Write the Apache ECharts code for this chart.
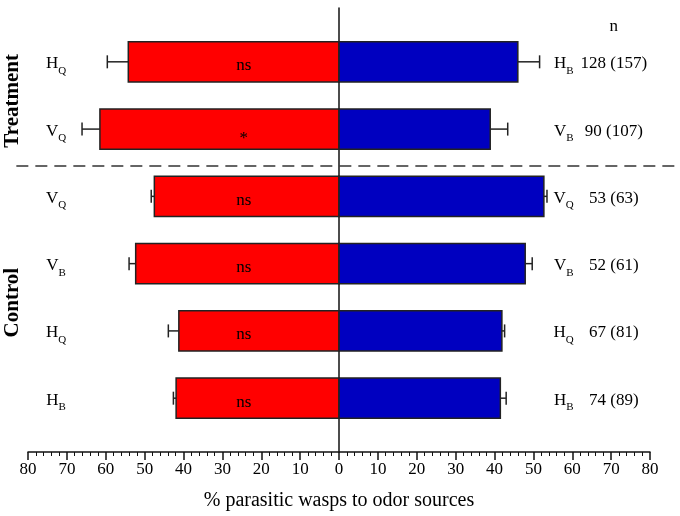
<!DOCTYPE html>
<html>
<head>
<meta charset="utf-8">
<script src="https://cdn.jsdelivr.net/npm/echarts@6/dist/echarts.min.js"></script>
<style>
  html, body { margin: 0; background: #fff; }
  #chart { width: 680px; height: 516px; }
</style>
</head>
<body>
<div id="chart"></div>
<script>
// 行位置 (1 = 最上)
const rowPos = [1, 2, 3, 4, 5, 6];
// 左侧 (红) 选择比例及误差上限
const leftValues = [54.2, 61.5, 47.5, 52.3, 41.2, 41.9];
const leftErrEnds = [59.6, 66.1, 48.3, 54.0, 43.9, 42.6];
// 右侧 (蓝) 选择比例及误差上限
const rightValues = [46.0, 38.9, 52.7, 47.9, 41.9, 41.5];
const rightErrEnds = [51.6, 43.4, 53.5, 49.7, 42.6, 43.0];
// 标签 [主字母, 下标]
const leftLabels = [['H', 'Q'], ['V', 'Q'], ['V', 'Q'], ['V', 'B'], ['H', 'Q'], ['H', 'B']];
const rightLabels = [['H', 'B'], ['V', 'B'], ['V', 'Q'], ['V', 'B'], ['H', 'Q'], ['H', 'B']];
const sigLabels = ['ns', '*', 'ns', 'ns', 'ns', 'ns'];
const nLabels = ['128 (157)', '90 (107)', '53 (63)', '52 (61)', '67 (81)', '74 (89)'];
const groupNames = ['Treatment', 'Control'];
const groupRows = [[1, 2], [3, 6]];
const nHeader = 'n';
const axisTitle = '% parasitic wasps to odor sources';

const FONT = '"Liberation Serif", "DejaVu Serif", serif';
const barHeight = 0.6;
const errStyle = { stroke: '#222', lineWidth: 1.5 };
const subRich = {
    m: { fontFamily: FONT, fontSize: 17, color: '#000', lineHeight: 17, verticalAlign: 'bottom' },
    s: { fontFamily: FONT, fontSize: 11, color: '#000', lineHeight: 11, verticalAlign: 'bottom', padding: [0, 0, -4, 0] }
};

function subText(pair) {
    return '{m|' + pair[0] + '}{s|' + pair[1] + '}';
}

function renderRow(params, api) {
    const i = params.dataIndex;
    const y = api.value(0);
    const h = api.size([0, barHeight])[1];
    const p0 = api.coord([0, y]);
    const pl = api.coord([-api.value(1), y]);
    const ple = api.coord([-api.value(2), y]);
    const pr = api.coord([api.value(3), y]);
    const pre = api.coord([api.value(4), y]);
    const cap = 6.5;
    const cy = p0[1];
    const children = [
        { type: 'line', shape: { x1: pl[0], y1: cy, x2: ple[0], y2: cy }, style: errStyle },
        { type: 'line', shape: { x1: ple[0], y1: cy - cap, x2: ple[0], y2: cy + cap }, style: errStyle },
        { type: 'line', shape: { x1: pr[0], y1: cy, x2: pre[0], y2: cy }, style: errStyle },
        { type: 'line', shape: { x1: pre[0], y1: cy - cap, x2: pre[0], y2: cy + cap }, style: errStyle },
        { type: 'rect', shape: { x: pl[0], y: cy - h / 2, width: p0[0] - pl[0], height: h },
          style: { fill: '#ff0000', stroke: '#222', lineWidth: 1.5 } },
        { type: 'rect', shape: { x: p0[0], y: cy - h / 2, width: pr[0] - p0[0], height: h },
          style: { fill: '#0000c0', stroke: '#222', lineWidth: 1.5 } }
    ];
    // 星号字形偏上, 下移一些
    const sigPt = api.coord([-24.5, y]);
    const sigShift = sigLabels[i] === '*' ? 9 : 4;
    children.push({ type: 'text', style: { text: sigLabels[i], x: sigPt[0], y: cy + sigShift,
        align: 'center', verticalAlign: 'middle', font: '17px ' + FONT, fill: '#000' } });
    const lp = api.coord([-72.8, y]);
    children.push({ type: 'text', style: { text: subText(leftLabels[i]), rich: subRich,
        x: lp[0], y: cy + 2, align: 'center', verticalAlign: 'middle' } });
    const rp = api.coord([57.8, y]);
    children.push({ type: 'text', style: { text: subText(rightLabels[i]), rich: subRich,
        x: rp[0], y: cy + 2, align: 'center', verticalAlign: 'middle' } });
    const np = api.coord([70.7, y]);
    children.push({ type: 'text', style: { text: nLabels[i], x: np[0], y: cy + 2,
        align: 'center', verticalAlign: 'middle', font: '17px ' + FONT, fill: '#000' } });
    if (i === 0) {
        const hp = api.coord([70.7, y - 0.53]);
        children.push({ type: 'text', style: { text: nHeader, x: hp[0], y: hp[1],
            align: 'center', verticalAlign: 'middle', font: '17px ' + FONT, fill: '#000' } });
    }
    return { type: 'group', children: children };
}

function renderDecor(params, api) {
    // 分隔虚线
    const a = api.coord([-83, 2.55]);
    const b = api.coord([86.5, 2.55]);
    const children = [
        { type: 'line', shape: { x1: a[0], y1: a[1], x2: b[0], y2: b[1] },
          style: { stroke: '#333', lineWidth: 1.5, lineDash: [12, 7] } }
    ];
    groupNames.forEach(function (name, g) {
        const mid = (groupRows[g][0] + groupRows[g][1]) / 2;
        const p = api.coord([-84, mid + (g === 0 ? 0.08 : 0.08)]);
        children.push({ type: 'text', x: p[0], y: p[1], rotation: Math.PI / 2,
            style: { text: name, x: 0, y: 0, align: 'center', verticalAlign: 'middle',
                font: 'bold 21px ' + FONT, fill: '#000' } });
    });
    return { type: 'group', children: children };
}

const chart = echarts.init(document.getElementById('chart'));
chart.setOption({
    backgroundColor: '#fff',
    animation: false,
    grid: { left: 28, right: 30, top: 8, bottom: 59 },
    xAxis: {
        type: 'value', min: -80, max: 80, interval: 10, position: 'bottom',
        axisLine: { onZero: false, lineStyle: { color: '#111', width: 1.5 } },
        axisTick: { show: true, length: 8, lineStyle: { color: '#111', width: 1.5 } },
        minorTick: { show: true, splitNumber: 5, length: 4, lineStyle: { color: '#111', width: 1 } },
        axisLabel: { formatter: function (v) { return Math.abs(v); }, fontFamily: FONT,
            fontSize: 17, color: '#000', margin: 9 },
        splitLine: { show: false },
        name: axisTitle, nameLocation: 'middle', nameGap: 39,
        nameTextStyle: { fontFamily: FONT, fontSize: 20, color: '#000' }
    },
    yAxis: {
        type: 'value', inverse: true, min: 0.2, max: 6.8,
        axisLine: { show: true, onZero: true, lineStyle: { color: '#111', width: 1.5 } },
        axisTick: { show: false }, axisLabel: { show: false }, splitLine: { show: false }
    },
    series: [
        {
            type: 'custom', renderItem: renderRow, clip: false,
            encode: { x: [1, 2, 3, 4], y: 0 },
            data: rowPos.map(function (p, i) {
                return [p, leftValues[i], leftErrEnds[i], rightValues[i], rightErrEnds[i]];
            })
        },
        {
            type: 'custom', renderItem: renderDecor, clip: false, silent: true,
            data: [[0, 0]]
        }
    ]
});
</script>
</body>
</html>
